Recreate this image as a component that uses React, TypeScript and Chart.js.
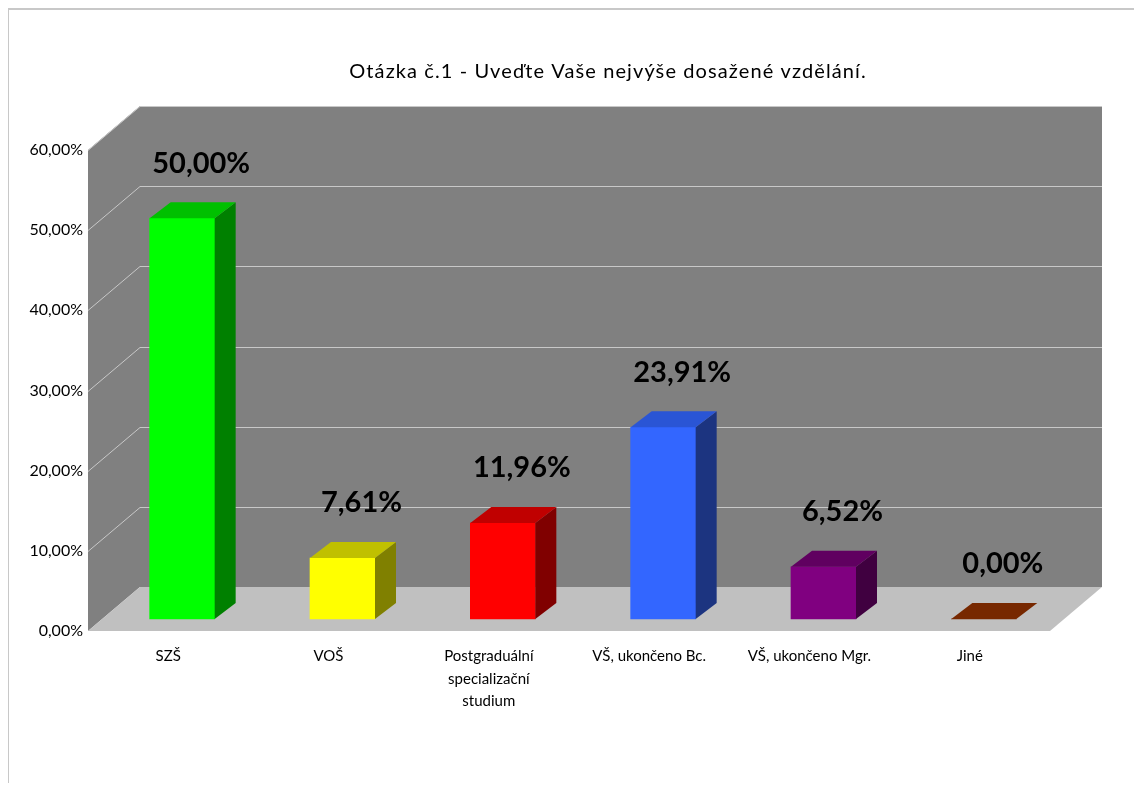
import { useEffect, useRef } from 'react';
import { Chart, registerables } from 'chart.js';

Chart.register(...registerables);

const TITLE = 'Otázka č.1 - Uveďte Vaše nejvýše dosažené vzdělání.';
const categories: string[][] = [
  ['SZŠ'],
  ['VOŠ'],
  ['Postgraduální', 'specializační', 'studium'],
  ['VŠ, ukončeno Bc.'],
  ['VŠ, ukončeno Mgr.'],
  ['Jiné'],
];
const values = [50.0, 7.61, 11.96, 23.91, 6.52, 0.0];
const yMin = 0;
const yMax = 60;
const yStep = 10;

const frontColors = ['#00ff00', '#ffff00', '#ff0000', '#3366ff', '#800080', '#772800'];
const sideColors = ['#008000', '#808000', '#800000', '#1c3480', '#400040', '#3b1400'];
const topColors = ['#00c000', '#c0c000', '#c00000', '#2a55d5', '#600060', '#772800'];

const FONT = 'Lato, "Open Sans", sans-serif';
const W = 1127;
const H = 775;
const WALL_DX = 52;
const WALL_DY = -44;
const BAR_DX = 14;
const BAR_DY = -12;
const SIDE_DX = 21;
const SIDE_DY = -16;

const fmt = (v: number) => v.toFixed(2).replace('.', ',') + '%';

function poly(ctx: CanvasRenderingContext2D, pts: number[][], fill: string) {
  ctx.beginPath();
  ctx.moveTo(pts[0][0], pts[0][1]);
  for (let i = 1; i < pts.length; i++) ctx.lineTo(pts[i][0], pts[i][1]);
  ctx.closePath();
  ctx.fillStyle = fill;
  ctx.fill();
}

const threeD = {
  id: 'threeD',
  beforeDraw(chart: any) {
    const { ctx } = chart;
    ctx.save();
    ctx.fillStyle = '#000000';
    ctx.font = `20px ${FONT}`;
    (ctx as any).letterSpacing = '1.1px';
    ctx.textAlign = 'center';
    ctx.textBaseline = 'middle';
    ctx.fillText(TITLE, 600, 64);
    ctx.restore();
  },
  beforeDatasetsDraw(chart: any) {
    const { ctx } = chart;
    const { left, right, top, bottom } = chart.chartArea;
    const y = chart.scales.y;
    ctx.save();
    poly(ctx, [
      [left + WALL_DX, top + WALL_DY],
      [right + WALL_DX, top + WALL_DY],
      [right + WALL_DX, bottom + WALL_DY],
      [left + WALL_DX, bottom + WALL_DY],
    ], '#808080');
    poly(ctx, [
      [left, top],
      [left + WALL_DX, top + WALL_DY],
      [left + WALL_DX, bottom + WALL_DY],
      [left, bottom],
    ], '#808080');
    poly(ctx, [
      [left, bottom],
      [left + WALL_DX, bottom + WALL_DY],
      [right + WALL_DX, bottom + WALL_DY],
      [right, bottom],
    ], '#c0c0c0');
    ctx.strokeStyle = '#c8c8c8';
    ctx.lineWidth = 1;
    y.ticks.forEach((t: any) => {
      if (t.value === yMin) return;
      const yf = Math.round(y.getPixelForValue(t.value)) + 0.5;
      ctx.beginPath();
      ctx.moveTo(left, yf);
      ctx.lineTo(left + WALL_DX, yf + WALL_DY);
      ctx.lineTo(right + WALL_DX, yf + WALL_DY);
      ctx.stroke();
    });
    ctx.restore();
    ctx.save();
    ctx.translate(BAR_DX, BAR_DY);
  },
  afterDatasetsDraw(chart: any) {
    const { ctx } = chart;
    ctx.restore();
    const meta = chart.getDatasetMeta(0);
    ctx.save();
    meta.data.forEach((bar: any, i: number) => {
      const p = bar.getProps(['x', 'y', 'base', 'width'], true);
      const l = p.x - p.width / 2 + BAR_DX;
      const r = p.x + p.width / 2 + BAR_DX;
      const t = p.y + BAR_DY;
      const b = p.base + BAR_DY;
      if (b - t > 0.5) {
        poly(ctx, [
          [r, t],
          [r + SIDE_DX, t + SIDE_DY],
          [r + SIDE_DX, b + SIDE_DY],
          [r, b],
        ], sideColors[i]);
      }
      poly(ctx, [
        [l, t],
        [r, t],
        [r + SIDE_DX, t + SIDE_DY],
        [l + SIDE_DX, t + SIDE_DY],
      ], topColors[i]);
      ctx.fillStyle = '#000000';
      ctx.font = `bold 29px ${FONT}`;
      ctx.textAlign = 'center';
      ctx.textBaseline = 'middle';
      ctx.fillText(fmt(values[i]), p.x + 33, t - 55);
    });
    ctx.restore();
  },
};

export default function App() {
  const ref = useRef<HTMLCanvasElement | null>(null);
  useEffect(() => {
    document.body.style.overflow = 'hidden';
    const canvas = ref.current;
    if (!canvas) return;
    const chart = new Chart(canvas, {
      type: 'bar',
      data: {
        labels: categories,
        datasets: [
          {
            data: values,
            backgroundColor: frontColors,
            borderWidth: 0,
            barThickness: 65,
            clip: false as any,
          },
        ],
      },
      options: {
        animation: false,
        responsive: false,
        devicePixelRatio: 1,
        events: [],
        layout: { padding: { top: 142, right: 85, left: 0, bottom: 0 } },
        plugins: {
          legend: { display: false },
          tooltip: { enabled: false },
          title: { display: false },
        },
        scales: {
          x: {
            grid: { display: false, drawTicks: false },
            border: { display: false },
            afterFit: (s: any) => { s.height = 152; },
            ticks: {
              color: '#000000',
              font: { family: FONT, size: 15, lineHeight: 1.5 },
              padding: 14,
              autoSkip: false,
              maxRotation: 0,
              minRotation: 0,
            },
          },
          y: {
            min: yMin,
            max: yMax,
            grid: { display: false, drawTicks: false },
            border: { display: false },
            afterFit: (s: any) => { s.width = 80; },
            ticks: {
              stepSize: yStep,
              color: '#000000',
              font: { family: FONT, size: 16 },
              padding: 5,
              callback: (v: any) => fmt(Number(v)),
            },
          },
        },
      },
      plugins: [threeD],
    });
    return () => chart.destroy();
  }, []);
  return (
    <div style={{ width: W, height: H, position: 'relative' }}>
      <canvas ref={ref} width={W} height={H} style={{ display: 'block', width: W, height: H }} />
      <div
        style={{
          position: 'absolute',
          left: -1,
          top: 0,
          width: W - 2,
          height: H - 2,
          borderLeft: '2px solid #c8c8c8',
          borderTop: '2px solid #c8c8c8',
          pointerEvents: 'none',
        }}
      />
    </div>
  );
}
